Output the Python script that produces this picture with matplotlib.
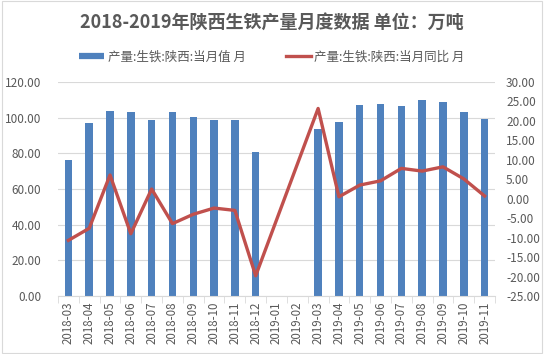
import numpy as np
import matplotlib.pyplot as plt
from matplotlib.lines import Line2D

plt.rcParams['font.family'] = ['Noto Sans CJK SC', 'DejaVu Sans']

months = ["2018-03", "2018-04", "2018-05", "2018-06", "2018-07", "2018-08", "2018-09",
          "2018-10", "2018-11", "2018-12", "2019-01", "2019-02", "2019-03", "2019-04",
          "2019-05", "2019-06", "2019-07", "2019-08", "2019-09", "2019-10", "2019-11"]
# 当月值 (万吨), 2019-01/02 missing
output = [76.3, 97.2, 104.0, 103.4, 98.9, 102.9, 100.6, 98.9, 98.9, 80.8, np.nan, np.nan,
          93.7, 97.6, 107.1, 107.7, 106.6, 109.9, 108.8, 103.2, 99.3]
# 当月同比 (%)
yoy = [-10.7, -7.6, 6.1, -9.0, 2.5, -6.4, -4.0, -2.4, -3.0, -19.8, np.nan, np.nan,
       23.2, 0.5, 3.5, 4.6, 7.8, 7.1, 8.2, 5.1, 0.7]

bar_color = "#4F81BD"
line_color = "#C0504D"
text_color = "#595959"

fig = plt.figure(figsize=(5.44, 3.54), dpi=100)
ax = fig.add_axes([58 / 544, 1 - 296 / 354, (495 - 58) / 544, (296 - 82) / 354])
ax2 = ax.twinx()

x = np.arange(len(months))
out = np.array(output, dtype=float)
ax.bar(x, np.nan_to_num(out), width=0.36, color=bar_color, zorder=2)

y = np.array(yoy, dtype=float)
ok = ~np.isnan(y)
ax2.plot(x[ok], y[ok], color=line_color, lw=2.4, zorder=3)

ax.set_xlim(-0.5, len(months) - 0.5)
ax.set_ylim(0, 120)
ax.set_yticks(np.arange(0, 121, 20))
ax.set_yticklabels([f"{v:.2f}" for v in np.arange(0, 121, 20)])
ax2.set_ylim(-25, 30)
ax2.set_yticks(np.arange(-25, 31, 5))
ax2.set_yticklabels([f"{v:.2f}" for v in np.arange(-25, 31, 5)])

ax.set_xticks(x)
ax.set_xticklabels(months, rotation=90)
ax.set_xticks(np.arange(-0.5, len(months), 1), minor=True)
ax.tick_params(axis='x', which='major', length=0, pad=4, labelsize=8.3, colors=text_color)
ax.tick_params(axis='x', which='minor', length=5, color="#D9D9D9")
ax.tick_params(axis='y', length=0, labelsize=8.5, colors=text_color, pad=12)
ax2.tick_params(axis='y', length=0, labelsize=8.5, colors=text_color, pad=8)

ax.grid(axis='y', color="#D9D9D9", lw=0.8, zorder=0)
for a in (ax, ax2):
    for s in a.spines.values():
        s.set_visible(False)
ax.spines['bottom'].set_visible(True)
ax.spines['bottom'].set_color("#D9D9D9")

fig.text(0.5, 1 - 22 / 354, "2018-2019年陕西生铁产量月度数据 单位：万吨", ha='center', va='center',
         fontsize=13, fontweight='bold', color=text_color)

handles = [Line2D([], [], color=bar_color, lw=4.5, solid_capstyle='butt'),
           Line2D([], [], color=line_color, lw=2.4)]
labels = ["产量:生铁:陕西:当月值 月", "产量:生铁:陕西:当月同比 月"]
leg = fig.legend(handles, labels, loc='center', bbox_to_anchor=(0.5, 1 - 57 / 354), ncol=2,
                 frameon=False, fontsize=9, handlelength=2.0, handletextpad=0.3,
                 columnspacing=3.2)
for t in leg.get_texts():
    t.set_color(text_color)

fig.patches.append(plt.Rectangle((0.003, 0.003), 0.994, 0.994, transform=fig.transFigure,
                                 fill=False, edgecolor="#D9D9D9", lw=0.8))

fig.savefig("out.png", dpi=100)
